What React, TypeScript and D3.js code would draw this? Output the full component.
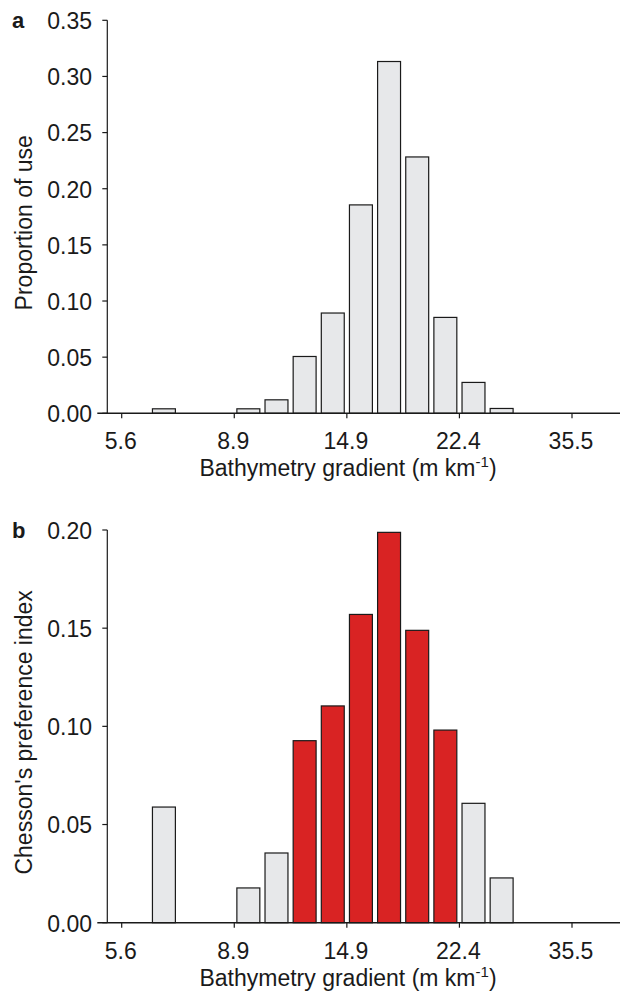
import React from "react";
import * as d3 from "d3";

const binTickLabels = ["5.6", "8.9", "14.9", "22.4", "35.5"];
const binTickEdges = [0, 4, 8, 12, 16];
const bins = d3.range(0, 17);
const useValues = [0, 0.004, 0, 0, 0.004, 0.012, 0.0506, 0.0893, 0.1856, 0.3133, 0.2283, 0.0854, 0.0275, 0.0043, 0, 0, 0];
const chessonValues = [0, 0.0589, 0, 0, 0.0177, 0.0355, 0.0927, 0.1104, 0.157, 0.1988, 0.1489, 0.0981, 0.0608, 0.0228, 0, 0, 0];
const selectedBins = [6, 7, 8, 9, 10, 11];
const yTicksA = [0, 0.05, 0.1, 0.15, 0.2, 0.25, 0.3, 0.35];
const yTicksB = [0, 0.05, 0.1, 0.15, 0.2];

const FONT = "'Liberation Sans', Arial, Helvetica, sans-serif";
const GRAY = "#e7e8ea";
const RED = "#d92323";
const INK = "#1a1a1a";
const FS = 23;

type PanelProps = {
  label: string;
  values: number[];
  yTicks: number[];
  yMax: number;
  top: number;
  bottom: number;
  yTitle: string;
  highlight: number[];
};

function Panel({ label, values, yTicks, yMax, top, bottom, yTitle, highlight }: PanelProps) {
  const x = d3.scaleLinear().domain([0, 16]).range([121.7, 572]);
  const y = d3.scaleLinear().domain([0, yMax]).range([bottom, top]);
  const axisX = 107.3;
  const step = x(1) - x(0);
  const inset = 2.6;
  const fmt = d3.format(".2f");
  const mid = (top + bottom) / 2 + 6;
  return (
    <g fontFamily={FONT} fill={INK}>
      <text x={12} y={top + 8} fontSize={22} fontWeight="bold">{label}</text>
      {bins.map((b) => {
        const v = values[b];
        if (!v) return null;
        const x0 = x(b) + inset;
        const w = step - 2 * inset;
        return (
          <rect
            key={b}
            x={x0}
            y={y(v)}
            width={w}
            height={bottom - y(v)}
            fill={highlight.includes(b) ? RED : GRAY}
            stroke={INK}
            strokeWidth={1.2}
          />
        );
      })}
      <line x1={axisX} x2={axisX} y1={top} y2={bottom} stroke={INK} strokeWidth={1.2} />
      <line x1={axisX - 10} x2={620} y1={bottom} y2={bottom} stroke={INK} strokeWidth={1.6} />
      {yTicks.map((t) => (
        <g key={t}>
          <line x1={axisX - 5} x2={axisX} y1={y(t)} y2={y(t)} stroke={INK} strokeWidth={1.2} />
          <text x={92} y={y(t) + 8.8} fontSize={FS} textAnchor="end">{fmt(t)}</text>
        </g>
      ))}
      {binTickEdges.map((e, i) => (
        <g key={e}>
          <line x1={x(e)} x2={x(e)} y1={bottom} y2={bottom + 5} stroke={INK} strokeWidth={1.2} />
          <text x={x(e) - 1} y={bottom + 36} fontSize={FS} textAnchor="middle">{binTickLabels[i]}</text>
        </g>
      ))}
      <text x={348} y={bottom + 63} fontSize={FS} textAnchor="middle">
        Bathymetry gradient (m km
        <tspan fontSize={15} dy={-9}>-1</tspan>
        <tspan dy={9}>)</tspan>
      </text>
      <text
        transform={`translate(32,${mid}) rotate(-90)`}
        fontSize={FS}
        textAnchor="middle"
      >
        {yTitle}
      </text>
    </g>
  );
}

export default function App() {
  return (
    <svg width={621} height={994} style={{ position: "absolute", left: 0, top: 0, background: "#fff" }}>
      <Panel
        label="a"
        values={useValues}
        yTicks={yTicksA}
        yMax={0.35}
        top={20.3}
        bottom={413.3}
        yTitle="Proportion of use"
        highlight={[]}
      />
      <Panel
        label="b"
        values={chessonValues}
        yTicks={yTicksB}
        yMax={0.2}
        top={530}
        bottom={922.7}
        yTitle="Chesson's preference index"
        highlight={selectedBins}
      />
    </svg>
  );
}
